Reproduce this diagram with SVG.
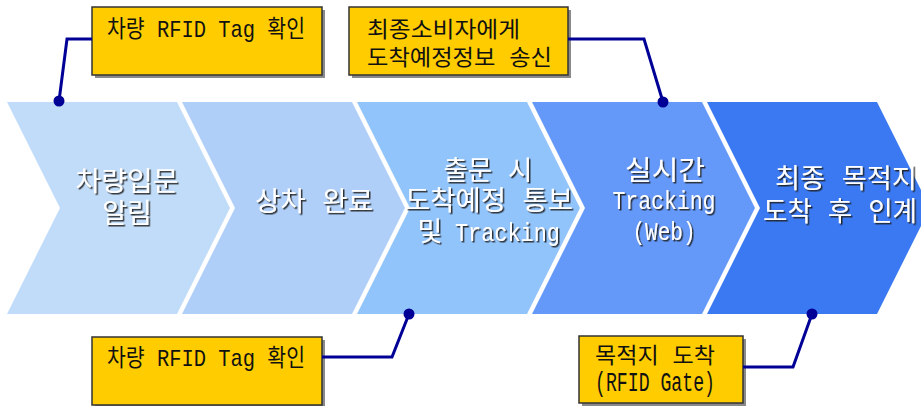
<svg xmlns="http://www.w3.org/2000/svg" width="921" height="406" viewBox="0 0 921 406">
<defs>
<filter id="ts" x="-10%" y="-20%" width="120%" height="150%">
<feDropShadow dx="1.5" dy="1.5" stdDeviation="0.3" flood-color="#1a1a1a" flood-opacity="0.9"/>
</filter>
</defs>
<style>
.lbl{font-family:"Liberation Mono","Noto Sans CJK KR",monospace;font-size:27px;fill:#fff;text-anchor:middle;filter:url(#ts)}
.lat{font-size:25px}
.st{text-anchor:start}
.box{fill:#FFCC00;stroke:#333;stroke-width:1.5}
.shd{fill:#8a8a8a}
.ct{font-family:"Liberation Mono","Noto Sans CJK KR",monospace;font-size:22px;fill:#111}
.cm{font-size:24px}
.cl{font-size:27px}
.con{fill:none;stroke:#000096;stroke-width:3;stroke-linejoin:miter}
.dot{fill:#000096}
</style>
<g id="step1">
<polygon points="7,102 177,102 230,208 177,314 7,314 60,208" fill="#C1DCF8"/>
<text class="lbl" x="127" y="191" textLength="103" lengthAdjust="spacingAndGlyphs">차량입문</text>
<text class="lbl" x="127" y="223">알림</text>
</g>
<g id="step2">
<polygon points="182,102 352,102 405,208 352,314 182,314 235,208" fill="#AFCFF8"/>
<text class="lbl" x="314" y="211" textLength="118" lengthAdjust="spacingAndGlyphs">상차 완료</text>
</g>
<g id="step3">
<polygon points="357,102 527,102 580,208 527,314 357,314 410,208" fill="#92C4FC"/>
<text class="lbl" x="488" y="180" textLength="89" lengthAdjust="spacingAndGlyphs">출문 시</text>
<text class="lbl" x="489" y="210" textLength="168" lengthAdjust="spacingAndGlyphs">도착예정 통보</text>
<text class="lbl" x="430" y="241">및</text>
<text class="lbl lat st" x="455" y="241" textLength="105" lengthAdjust="spacingAndGlyphs">Tracking</text>
</g>
<g id="step4">
<polygon points="532,102 702,102 755,208 702,314 532,314 585,208" fill="#6599F9"/>
<text class="lbl" x="665" y="180" textLength="80" lengthAdjust="spacingAndGlyphs">실시간</text>
<text class="lbl lat" x="664" y="209" textLength="103" lengthAdjust="spacingAndGlyphs">Tracking</text>
<text class="lbl lat" x="664" y="240" textLength="63" lengthAdjust="spacingAndGlyphs">(Web)</text>
</g>
<g id="step5">
<polygon points="707,102 877,102 930,208 877,314 707,314 760,208" fill="#3A79F1"/>
<text class="lbl" x="846" y="188" textLength="142" lengthAdjust="spacingAndGlyphs">최종 목적지</text>
<text class="lbl" x="840" y="221" textLength="154" lengthAdjust="spacingAndGlyphs">도착 후 인계</text>
</g>
<g id="note1">
<rect class="shd" x="95" y="10" width="230" height="68"/>
<rect class="box" x="92" y="7" width="230" height="68"/>
<text class="ct cm" x="107" y="37" textLength="198" lengthAdjust="spacingAndGlyphs">차량 RFID Tag 확인</text>
</g>
<g id="note2">
<rect class="shd" x="352" y="10" width="219" height="68"/>
<rect class="box" x="349" y="7" width="219" height="68"/>
<text class="ct" x="367" y="37" textLength="153" lengthAdjust="spacingAndGlyphs">최종소비자에게</text>
<text class="ct" x="367" y="65" textLength="185" lengthAdjust="spacingAndGlyphs">도착예정정보 송신</text>
</g>
<g id="note3">
<rect class="shd" x="95" y="340" width="230" height="68"/>
<rect class="box" x="92" y="337" width="230" height="68"/>
<text class="ct cm" x="107" y="366" textLength="198" lengthAdjust="spacingAndGlyphs">차량 RFID Tag 확인</text>
</g>
<g id="note4">
<rect class="shd" x="582" y="339" width="164" height="67"/>
<rect class="box" x="579" y="336" width="164" height="67"/>
<text class="ct" x="595" y="363" textLength="120" lengthAdjust="spacingAndGlyphs">목적지 도착</text>
<text class="ct cl" x="595" y="391" textLength="120" lengthAdjust="spacingAndGlyphs">(RFID Gate)</text>
</g>
<g id="connectors">
<polyline class="con" points="92,39 67,39 59,101"/>
<circle class="dot" cx="59" cy="101" r="5.5"/>
<polyline class="con" points="568,39 644,39 663,102"/>
<circle class="dot" cx="663" cy="102" r="5.5"/>
<polyline class="con" points="322,357 392,357 409,314"/>
<circle class="dot" cx="409" cy="314" r="5.5"/>
<polyline class="con" points="743,367 793,367 812,314"/>
<circle class="dot" cx="812" cy="314" r="5.5"/>
</g>
</svg>
